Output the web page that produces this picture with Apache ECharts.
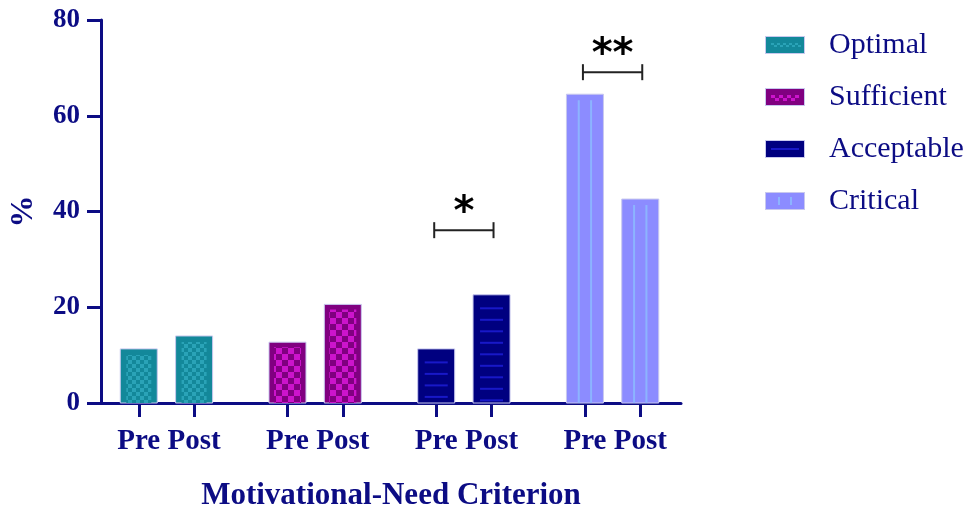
<!DOCTYPE html>
<html><head><meta charset="utf-8">
<script src="https://cdn.jsdelivr.net/npm/echarts@6/dist/echarts.min.js"></script>
<style>html,body{margin:0;padding:0;background:#fff}#c{width:974px;height:513px}</style>
</head><body><div id="c"></div>
<script>
// ---- data ----
const groups = ['Optimal', 'Sufficient', 'Acceptable', 'Critical'];
const phaseLabels = ['Pre', 'Post'];
const preValues = [11.3, 12.7, 11.3, 64.5];
const postValues = [14.0, 20.6, 22.6, 42.6];
const sigGroups = [2, 3];
const sigLevels = [36.1, 69.1];
const sigMarks = ['*', '**'];
const xAxisTitle = 'Motivational-Need Criterion';
const yAxisTitle = '%';

// ---- style ----
const NAVY = '#0c0c84';
const OFF = 0.186;
const BAR_W = 37;
const SERIF = '"Liberation Serif", "Times New Roman", serif';

const styles = [
  { base: '#13889a', kind: 'check', c: 4, light: '#2aa3b7', inset: 6 },
  { base: '#800080', kind: 'check', c: 6, light: '#cc14cc', inset: 5 },
  { base: '#000080', kind: 'hlines', light: '#1818c8', inset: 7 },
  { base: '#8c8cff', kind: 'vlines', light: '#8cb4ff', inset: 6 }
];

function checkerPattern(s) {
  const cv = document.createElement('canvas');
  cv.width = cv.height = 2 * s.c;
  const g = cv.getContext('2d');
  g.fillStyle = s.base; g.fillRect(0, 0, 2 * s.c, 2 * s.c);
  g.fillStyle = s.light; g.fillRect(0, 0, s.c, s.c); g.fillRect(s.c, s.c, s.c, s.c);
  return { image: cv, repeat: 'repeat' };
}
const patterns = styles.map(s => s.kind === 'check' ? checkerPattern(s) : null);

function legendIcon(i) {
  const s = styles[i];
  const cv = document.createElement('canvas');
  cv.width = 40; cv.height = 18;
  const g = cv.getContext('2d');
  g.fillStyle = s.base; g.fillRect(0, 0, 40, 18);
  g.strokeStyle = '#c8c8ee'; g.lineWidth = 1; g.strokeRect(0.5, 0.5, 39, 17);
  g.fillStyle = s.light;
  if (s.kind === 'check') {
    const c = i === 0 ? 3 : 4;
    for (let x = 6, k = 0; x < 34; x += c, k++) {
      g.fillRect(x, 7 + (k % 2) * (c - 1), c, c - 1);
    }
  } else if (s.kind === 'hlines') {
    g.fillRect(6, 8, 28, 2);
  } else {
    g.fillRect(13, 5, 2, 8); g.fillRect(25, 5, 2, 8);
  }
  return 'image://' + cv.toDataURL();
}

function renderBar(gi) {
  return function (params, api) {
    const g = api.value(0), v = api.value(1), ph = api.value(2);
    const xc = g + (ph === 0 ? -OFF : OFF);
    const top = api.coord([xc, v]);
    const bot = api.coord([xc, 0]);
    const x0 = top[0] - BAR_W / 2, y0 = top[1], h = bot[1] - top[1];
    const s = styles[gi];
    const ch = [{ type: 'rect', shape: { x: x0, y: y0, width: BAR_W, height: h },
      style: { fill: s.base, stroke: '#c8c8ee', lineWidth: 1 } }];
    if (s.kind === 'check') {
      ch.push({ type: 'rect', shape: { x: x0 + s.inset, y: y0 + s.inset, width: BAR_W - 2 * s.inset, height: h - s.inset },
        style: { fill: patterns[gi] } });
    } else if (s.kind === 'hlines') {
      for (let y = y0 + 13.5; y < bot[1] - 2; y += 11.5) {
        ch.push({ type: 'rect', shape: { x: x0 + s.inset, y: y - 1, width: BAR_W - 2 * s.inset, height: 2 }, style: { fill: s.light } });
      }
    } else {
      [1 / 3, 2 / 3].forEach(f => {
        ch.push({ type: 'rect', shape: { x: x0 + BAR_W * f - 1, y: y0 + s.inset, width: 2, height: h - s.inset }, style: { fill: s.light } });
      });
    }
    return { type: 'group', children: ch };
  };
}

const tickPositions = groups.flatMap((_, i) => [i - OFF, i + OFF]);

const series = groups.map((name, gi) => ({
  name, type: 'custom', renderItem: renderBar(gi), clip: false,
  itemStyle: { color: styles[gi].base },
  data: [[gi, preValues[gi], 0], [gi, postValues[gi], 1]],
  encode: { x: 0, y: 1 }
}));

series.push({
  name: 'sig', type: 'custom', clip: false, silent: true,
  data: sigGroups.map((g, i) => [g, sigLevels[i], i]),
  encode: { x: 0, y: 1 },
  renderItem: function (params, api) {
    const g = api.value(0), lv = api.value(1), idx = api.value(2);
    const l = api.coord([g - OFF, lv]), r = api.coord([g + OFF, lv]);
    const x1 = l[0] - 2, x2 = r[0] + 2, y = l[1];
    const ls = { stroke: '#222', lineWidth: 2 };
    return { type: 'group', children: [
      { type: 'line', shape: { x1, y1: y, x2, y2: y }, style: ls },
      { type: 'line', shape: { x1, y1: y - 8, x2: x1, y2: y + 8 }, style: ls },
      { type: 'line', shape: { x1: x2, y1: y - 8, x2, y2: y + 8 }, style: ls },
      { type: 'text', x: (x1 + x2) / 2, y: y + 3, style: { text: sigMarks[idx], fill: '#000',
        font: 'bold 40px "DejaVu Sans", sans-serif', align: 'center', verticalAlign: 'bottom' } }
    ] };
  }
});

const chart = echarts.init(document.getElementById('c'), null, { renderer: 'canvas' });
chart.setOption({
  animation: false,
  backgroundColor: '#fff',
  grid: { left: 101, right: 293, top: 20, bottom: 110, containLabel: false, outerBoundsMode: 'none' },
  legend: {
    orient: 'vertical', left: 765, top: 29, padding: 0, itemWidth: 40, itemHeight: 18, itemGap: 20,
    selectedMode: false,
    textStyle: { fontFamily: SERIF, fontSize: 30, color: NAVY, padding: [0, 0, 0, 19], lineHeight: 32 },
    data: groups.map((g, i) => ({ name: g, icon: legendIcon(i) }))
  },
  xAxis: {
    type: 'value', min: -0.44, max: 3.46,
    splitLine: { show: false },
    axisLine: { show: true, onZero: false, lineStyle: { color: NAVY, width: 3 } },
    axisTick: { show: true, customValues: tickPositions, length: 14, lineStyle: { color: NAVY, width: 3 } },
    axisLabel: {
      customValues: tickPositions,
      formatter: v => (v < Math.round(v) ? phaseLabels[0] : phaseLabels[1]),
      margin: 24, fontFamily: SERIF, fontSize: 29, fontWeight: 'bold', color: NAVY
    },
    name: xAxisTitle, nameLocation: 'middle', nameGap: 77,
    nameTextStyle: { fontFamily: SERIF, fontSize: 31, fontWeight: 'bold', color: NAVY }
  },
  yAxis: {
    type: 'value', min: 0, max: 80, interval: 20,
    splitLine: { show: false },
    axisLine: { show: true, onZero: false, lineStyle: { color: NAVY, width: 3 } },
    axisTick: { show: true, length: 14, lineStyle: { color: NAVY, width: 3 } },
    axisLabel: { margin: 21, fontFamily: SERIF, fontSize: 27, fontWeight: 'bold', color: NAVY },
    name: yAxisTitle, nameLocation: 'middle', nameGap: 61, nameRotate: 90,
    nameTextStyle: { fontFamily: SERIF, fontSize: 32, fontWeight: 'bold', color: NAVY }
  },
  series
});
</script>
</body></html>
